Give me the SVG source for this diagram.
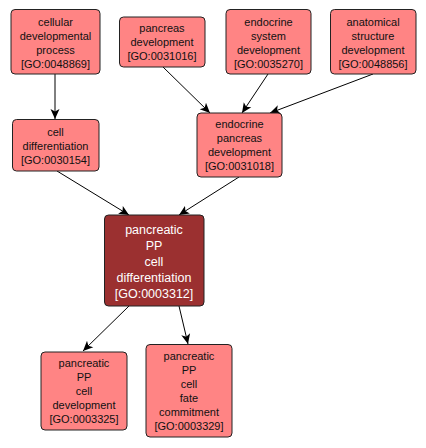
<svg xmlns="http://www.w3.org/2000/svg" width="426" height="448" viewBox="0 0 426 448">
<style>
.n rect{fill:#ff8484;stroke:#222;stroke-width:1}
.n text{font-family:"Liberation Sans",Arial,sans-serif;font-size:11px;fill:#111;text-anchor:middle}
.m rect{fill:#9b3030;stroke:#222;stroke-width:1}
.m text{font-family:"Liberation Sans",Arial,sans-serif;font-size:12.5px;fill:#fff;text-anchor:middle}
.e line{stroke:#000;stroke-width:1;marker-end:url(#a)}
</style>
<defs>
<marker id="a" markerUnits="userSpaceOnUse" markerWidth="10" markerHeight="10" viewBox="0 0 10 10" refX="10" refY="5" orient="auto">
<path d="M0,0.5 L10,5 L0,9.5 L2.5,5 z" fill="#000"/>
</marker>
</defs>
<rect width="426" height="448" fill="#fff"/>
<g id="connectors" class="e">
<line x1="55" y1="74" x2="55" y2="119"/>
<line x1="163" y1="67" x2="210" y2="113"/>
<line x1="268" y1="74" x2="242" y2="113"/>
<line x1="373" y1="74" x2="270" y2="113"/>
<line x1="57" y1="171" x2="129" y2="215"/>
<line x1="239" y1="177" x2="179" y2="215"/>
<line x1="129" y1="306" x2="83" y2="351"/>
<line x1="179" y1="306" x2="188" y2="344"/>
</g>
<g id="GO0048869" class="n">
<rect x="11" y="9.5" width="89" height="64.5" rx="4"/>
<text x="55.5" y="25.5">cellular</text>
<text x="55.5" y="39.5">developmental</text>
<text x="55.5" y="53.5">process</text>
<text x="55.5" y="67.5">[GO:0048869]</text>
</g>
<g id="GO0031016" class="n">
<rect x="119.5" y="17" width="85.5" height="50" rx="4"/>
<text x="162" y="32">pancreas</text>
<text x="162" y="46">development</text>
<text x="162" y="60">[GO:0031016]</text>
</g>
<g id="GO0035270" class="n">
<rect x="226" y="9.5" width="85" height="64.5" rx="4"/>
<text x="268.5" y="25.5">endocrine</text>
<text x="268.5" y="39.5">system</text>
<text x="268.5" y="53.5">development</text>
<text x="268.5" y="67.5">[GO:0035270]</text>
</g>
<g id="GO0048856" class="n">
<rect x="330.5" y="9.5" width="85.5" height="64.5" rx="4"/>
<text x="373" y="25.5">anatomical</text>
<text x="373" y="39.5">structure</text>
<text x="373" y="53.5">development</text>
<text x="373" y="67.5">[GO:0048856]</text>
</g>
<g id="GO0030154" class="n">
<rect x="12.5" y="119.5" width="86.5" height="51.5" rx="4"/>
<text x="55.5" y="135.5">cell</text>
<text x="55.5" y="149.5">differentiation</text>
<text x="55.5" y="163.5">[GO:0030154]</text>
</g>
<g id="GO0031018" class="n">
<rect x="197" y="113" width="85" height="64" rx="4"/>
<text x="239.5" y="128">endocrine</text>
<text x="239.5" y="142">pancreas</text>
<text x="239.5" y="156">development</text>
<text x="239.5" y="170">[GO:0031018]</text>
</g>
<g id="GO0003312" class="m">
<rect x="104.5" y="215" width="99.5" height="91" rx="4"/>
<text x="154" y="234">pancreatic</text>
<text x="154" y="250">PP</text>
<text x="154" y="266">cell</text>
<text x="154" y="282">differentiation</text>
<text x="154" y="298">[GO:0003312]</text>
</g>
<g id="GO0003325" class="n">
<rect x="41" y="352" width="86" height="78" rx="4"/>
<text x="84" y="366.5">pancreatic</text>
<text x="84" y="380.5">PP</text>
<text x="84" y="394.5">cell</text>
<text x="84" y="408.5">development</text>
<text x="84" y="422.5">[GO:0003325]</text>
</g>
<g id="GO0003329" class="n">
<rect x="146" y="344.5" width="86" height="92.5" rx="4"/>
<text x="189" y="360">pancreatic</text>
<text x="189" y="374">PP</text>
<text x="189" y="388">cell</text>
<text x="189" y="402">fate</text>
<text x="189" y="416">commitment</text>
<text x="189" y="430">[GO:0003329]</text>
</g>
</svg>
